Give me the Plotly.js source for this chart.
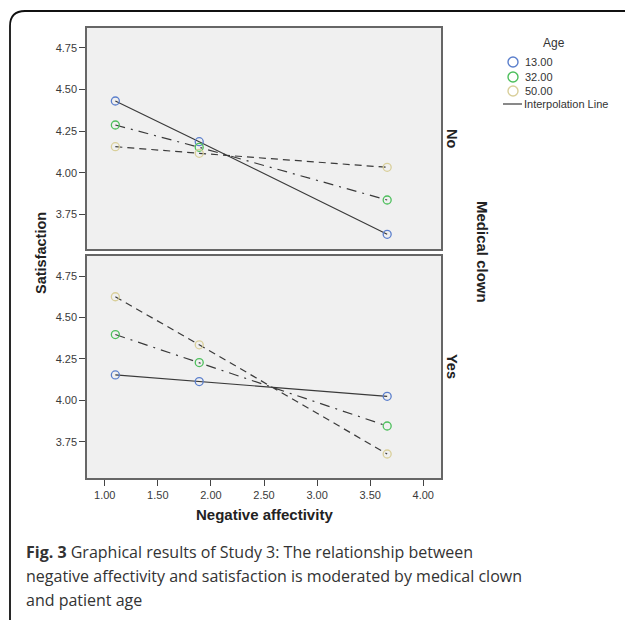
<!DOCTYPE html>
<html>
<head>
<meta charset="utf-8">
<script src="https://cdn.plot.ly/plotly-3.0.1.min.js"></script>
<style>html,body{margin:0;padding:0;background:#fff;}#chart{width:625px;height:620px;}</style>
</head>
<body>
<div id="chart"></div>
<script>
// ---- data ----
const negAffect = [1.10, 1.89, 3.66];
const ageLabels = ['13.00', '32.00', '50.00'];
// Medical clown = No
const noAge13 = [4.43, 4.186, 3.63];
const noAge32 = [4.286, 4.152, 3.836];
const noAge50 = [4.156, 4.116, 4.032];
// Medical clown = Yes
const yesAge13 = [4.153, 4.113, 4.024];
const yesAge32 = [4.397, 4.228, 3.845];
const yesAge50 = [4.625, 4.335, 3.676];
const xTicks = [1.00, 1.50, 2.00, 2.50, 3.00, 3.50, 4.00];
const yTicks = [3.75, 4.00, 4.25, 4.50, 4.75];
const panelLabels = ['No', 'Yes'];

// ---- styles ----
const markerColors = ['#5b7fcc', '#4dbf5c', '#d9cf9a'];
const dashes = ['solid', '10px,6px,2px,6px', '7px,5px'];
const W = 625, H = 620;
const px = v => v / W, py = v => 1 - v / H;
const sansFont = 'Liberation Sans, Arial, sans-serif';

const seriesNo = [noAge13, noAge32, noAge50];
const seriesYes = [yesAge13, yesAge32, yesAge50];
const traces = [];
[[seriesNo, 'x', 'y'], [seriesYes, 'x2', 'y2']].forEach(([set, xa, ya]) => {
  set.forEach((vals, i) => {
    traces.push({
      type: 'scatter', mode: 'lines+markers', x: negAffect, y: vals, name: ageLabels[i],
      xaxis: xa, yaxis: ya, showlegend: false, hoverinfo: 'x+y+name',
      line: {color: '#3a3a3a', width: 1.2, dash: dashes[i]},
      marker: {symbol: 'circle-open', size: 8, color: markerColors[i], line: {width: 1.3}}
    });
  });
});

const tickFont = {family: sansFont, size: 11, color: '#3a3a3a'};
const axisCommon = {
  showgrid: false, zeroline: false, showline: true, mirror: true,
  linecolor: '#666', linewidth: 1.5, ticks: 'outside', ticklen: 6, tickwidth: 1.2,
  tickcolor: '#444', tickfont: tickFont
};
const xDomain = [px(87), px(441)];

// ---- legend (drawn as annotations + decorative shapes) ----
const legX = 513, legRowY = [62, 77, 91], legLineY = 104, legR = 5;
const legendShapes = ageLabels.map((lab, i) => ({
  type: 'circle', xref: 'paper', yref: 'paper',
  x0: px(legX - legR), x1: px(legX + legR), y0: py(legRowY[i] + legR), y1: py(legRowY[i] - legR),
  line: {color: markerColors[i], width: 1.4}, fillcolor: 'rgba(0,0,0,0)'
}));
legendShapes.push({type: 'line', xref: 'paper', yref: 'paper',
  x0: px(503), x1: px(522), y0: py(legLineY), y1: py(legLineY), line: {color: '#3a3a3a', width: 1.2}});
const legendAnn = ageLabels.map((lab, i) => ({
  text: lab, xref: 'paper', yref: 'paper', x: px(523), y: py(legRowY[i]), xanchor: 'left', yanchor: 'middle',
  showarrow: false, font: {family: sansFont, size: 11, color: '#333'}
}));
legendAnn.push({text: 'Interpolation Line', xref: 'paper', yref: 'paper', x: px(522), y: py(legLineY),
  xanchor: 'left', yanchor: 'middle', showarrow: false, font: {family: sansFont, size: 11, color: '#333'}});
legendAnn.push({text: 'Age', xref: 'paper', yref: 'paper', x: px(554), y: py(43),
  xanchor: 'center', yanchor: 'middle', showarrow: false, font: {family: sansFont, size: 12, color: '#333'}});

const captionFont = {family: 'Open Sans, sans-serif', size: 16, color: '#333'};
const layout = {
  width: W, height: H,
  margin: {l: 0, r: 0, t: 0, b: 0, pad: 0},
  paper_bgcolor: '#ffffff', plot_bgcolor: '#f0f0f0',
  font: {family: sansFont, color: '#333'},
  showlegend: false,
  xaxis: Object.assign({}, axisCommon, {domain: xDomain, range: [0.833, 4.167], anchor: 'y',
    tickvals: xTicks, showticklabels: false, ticks: ''}),
  yaxis: Object.assign({}, axisCommon, {domain: [py(249), py(28)], range: [3.542, 4.868], anchor: 'x',
    tickvals: yTicks, tickformat: '.2f'}),
  xaxis2: Object.assign({}, axisCommon, {domain: xDomain, range: [0.833, 4.167], anchor: 'y2',
    tickvals: xTicks, tickformat: '.2f'}),
  yaxis2: Object.assign({}, axisCommon, {domain: [py(478), py(256)], range: [3.531, 4.871], anchor: 'x2',
    tickvals: yTicks, tickformat: '.2f'}),
  annotations: [
    {text: '<b>Satisfaction</b>', xref: 'paper', yref: 'paper', x: px(41), y: py(253), textangle: -90,
      showarrow: false, font: {size: 14.5, color: '#222'}, xanchor: 'center', yanchor: 'middle'},
    {text: '<b>Negative affectivity</b>', xref: 'paper', yref: 'paper', x: px(264), y: py(514),
      showarrow: false, font: {size: 15, color: '#222'}, xanchor: 'center', yanchor: 'middle'},
    {text: '<b>' + panelLabels[0] + '</b>', xref: 'paper', yref: 'paper', x: px(452), y: py(139), textangle: 90,
      showarrow: false, font: {size: 14.5, color: '#222'}, xanchor: 'center', yanchor: 'middle'},
    {text: '<b>' + panelLabels[1] + '</b>', xref: 'paper', yref: 'paper', x: px(452), y: py(367), textangle: 90,
      showarrow: false, font: {size: 14.5, color: '#222'}, xanchor: 'center', yanchor: 'middle'},
    {text: '<b>Medical clown</b>', xref: 'paper', yref: 'paper', x: px(483), y: py(252), textangle: 90,
      showarrow: false, font: {size: 15, color: '#222'}, xanchor: 'center', yanchor: 'middle'},
    {text: '<b>Fig. 3</b> Graphical results of Study 3: The relationship between', xref: 'paper', yref: 'paper',
      x: px(24), y: py(552), xanchor: 'left', yanchor: 'middle', showarrow: false, align: 'left', font: captionFont},
    {text: 'negative affectivity and satisfaction is moderated by medical clown', xref: 'paper', yref: 'paper',
      x: px(24), y: py(576), xanchor: 'left', yanchor: 'middle', showarrow: false, align: 'left', font: captionFont},
    {text: 'and patient age', xref: 'paper', yref: 'paper',
      x: px(24), y: py(600), xanchor: 'left', yanchor: 'middle', showarrow: false, align: 'left', font: captionFont}
  ].concat(legendAnn),
  shapes: [
    {type: 'path', xref: 'paper', yref: 'paper',
      path: 'M ' + px(10) + ',' + py(622) + ' L ' + px(10) + ',' + py(26) +
            ' Q ' + px(10) + ',' + py(11) + ' ' + px(25) + ',' + py(11) + ' L ' + px(627) + ',' + py(11),
      line: {color: '#111', width: 1.8}}
  ].concat(legendShapes)
};
Plotly.newPlot('chart', traces, layout, {displayModeBar: false});
</script>
</body>
</html>
